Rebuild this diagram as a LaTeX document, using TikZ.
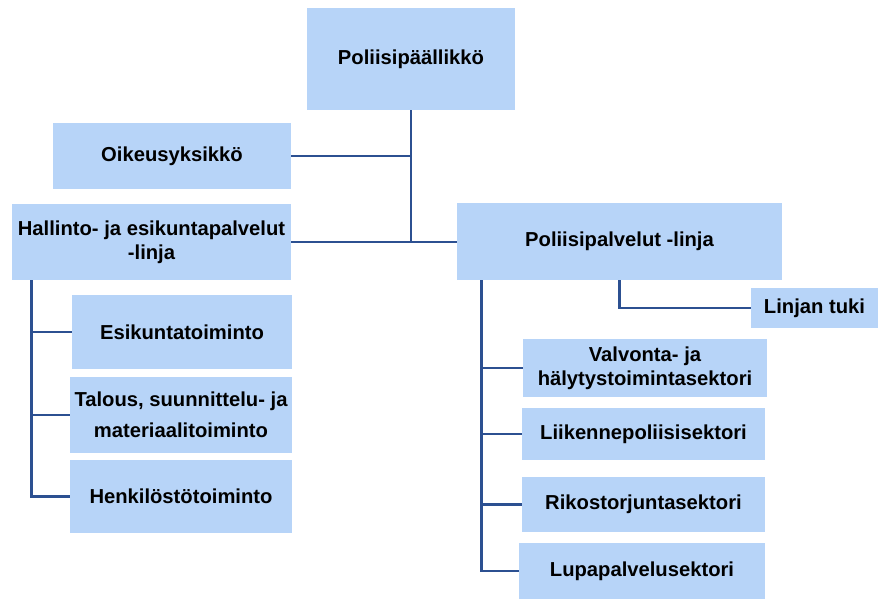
\documentclass[tikz,border=0pt]{standalone}
\usepackage{fontspec}
\setmainfont{Liberation Sans}
\usetikzlibrary{calc}

\definecolor{boxblue}{RGB}{183,212,248}
\definecolor{linkblue}{RGB}{44,80,145}

\begin{document}
\begin{tikzpicture}[
  unit/.style={rectangle,fill=boxblue,inner sep=0pt,align=center,
    font=\fontsize{11.5}{13.5}\selectfont\bfseries},
  link/.style={draw=linkblue,line width=1.5pt}]
\useasboundingbox (0,0) rectangle (17.6,-11.98);
\draw (8.22,-1.18) node (chief) [unit,minimum width=4.16cm,minimum height=2.04cm] {Poliisip\"a\"allikk\"o};
\draw (3.44,-3.12) node (oik) [unit,minimum width=4.76cm,minimum height=1.32cm] {Oikeusyksikk\"o};
\draw (3.03,-4.84) node (hall) [unit,minimum width=5.58cm,minimum height=1.52cm] {Hallinto- ja esikuntapalvelut\\-linja};
\draw (12.39,-4.83) node (poli) [unit,minimum width=6.5cm,minimum height=1.54cm] {Poliisipalvelut -linja};
\draw (16.29,-6.16) node (tuki) [unit,minimum width=2.54cm,minimum height=0.8cm] {Linjan tuki};
\draw (3.64,-6.64) node (esi) [unit,minimum width=4.4cm,minimum height=1.48cm] {Esikuntatoiminto};
\draw (3.62,-8.3) node (tal) [unit,minimum width=4.44cm,minimum height=1.52cm] {Talous, suunnittelu- ja\\[4pt]materiaalitoiminto};
\draw (3.62,-9.93) node (henk) [unit,minimum width=4.44cm,minimum height=1.46cm] {Henkil\"ost\"otoiminto};
\draw (12.9,-7.36) node (valv) [unit,minimum width=4.88cm,minimum height=1.16cm] {Valvonta- ja\\h\"alytystoimintasektori};
\draw (12.87,-8.68) node (liik) [unit,minimum width=4.86cm,minimum height=1.04cm] {Liikennepoliisisektori};
\draw (12.87,-10.09) node (rik) [unit,minimum width=4.86cm,minimum height=1.1cm] {Rikostorjuntasektori};
\draw (12.84,-11.42) node (lupa) [unit,minimum width=4.92cm,minimum height=1.12cm] {Lupapalvelusektori};
\draw[link] (chief.south) -- (chief.south |- hall.east);
\draw[link] (oik.east) -- (oik.east -| chief.south);
\draw[link] (hall.east) -- (hall.east -| poli.west);
\draw[link] (poli.south) |- (tuki.west);
\draw[link] ([xshift=0.4cm]hall.south west) |- (henk.west);
\draw[link] ([xshift=0.4cm]hall.south west) |- (esi.west);
\draw[link] ([xshift=0.4cm]hall.south west) |- (tal.west);
\draw[link] ([xshift=0.5cm]poli.south west) |- (lupa.west);
\draw[link] ([xshift=0.5cm]poli.south west) |- (valv.west);
\draw[link] ([xshift=0.5cm]poli.south west) |- (liik.west);
\draw[link] ([xshift=0.5cm]poli.south west) |- (rik.west);
\end{tikzpicture}
\end{document}
